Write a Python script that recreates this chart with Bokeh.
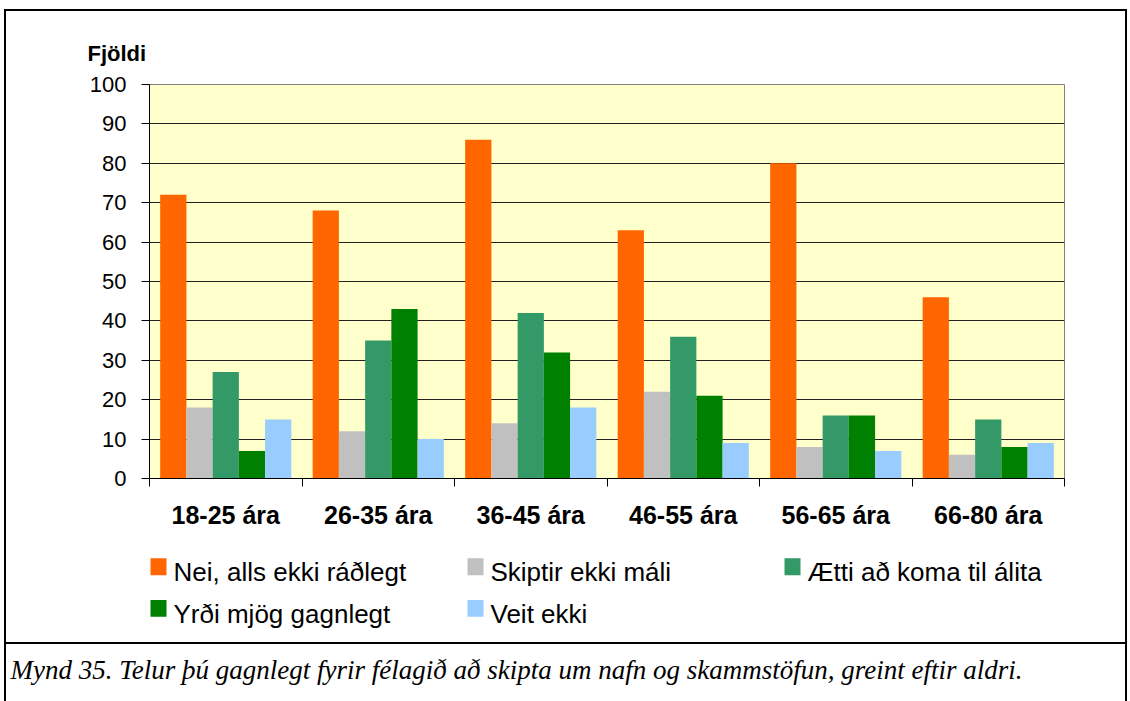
from bokeh.plotting import figure
from bokeh.layouts import column
from bokeh.models import (Range1d, FixedTicker, Title, ColumnDataSource, InlineStyleSheet)
from bokeh.core.properties import value
from bokeh.transform import dodge
from bokeh.embed import file_html
from bokeh.resources import INLINE

# ---------------- data ----------------
ages = ["18-25 ára", "26-35 ára", "36-45 ára", "46-55 ára", "56-65 ára", "66-80 ára"]
series_names = ["Nei, alls ekki ráðlegt", "Skiptir ekki máli", "Ætti að koma til álita",
                "Yrði mjög gagnlegt", "Veit ekki"]
nei = [72, 68, 86, 63, 80, 46]
skiptir = [18, 12, 14, 22, 8, 6]
aetti = [27, 35, 42, 36, 16, 15]
yrdi = [7, 43, 32, 21, 16, 8]
veit = [15, 10, 18, 9, 7, 9]
y_ticks = [0, 10, 20, 30, 40, 50, 60, 70, 80, 90, 100]
y_title = "Fjöldi"
caption = "Mynd 35.  Telur þú gagnlegt fyrir félagið að skipta um nafn og skammstöfun,  greint eftir aldri."

# ---------------- style / layout ----------------
colors = ["#FF6600", "#C0C0C0", "#339966", "#008000", "#99CCFF"]
FONT = "Liberation Sans"
W, H = 1130, 701
TOP_H = 540                      # height of chart part, legend + caption below
BOT_H = H - TOP_H
SEP_Y = 641                      # separator line between legend and caption
FRAME_L, FRAME_R, FRAME_T, FRAME_B = 149, 1064, 84, 478   # page pixels

n = len(ages)
centers = [i + 0.5 for i in range(n)]      # category slots on the x scale
bounds = list(range(n + 1))                # slot boundaries (tick marks)

# ---------------- chart ----------------
p = figure(x_range=Range1d(0, n), y_range=Range1d(0, 100),
           width=W, height=TOP_H, output_backend="svg", toolbar_location=None,
           min_border_left=FRAME_L, min_border_right=W - FRAME_R,
           min_border_top=FRAME_T, min_border_bottom=TOP_H - FRAME_B,
           background_fill_color="#FFFFCC", border_fill_color="white",
           outline_line_color="#808080", title=y_title)

p.title.align = "left"
p.title.offset = 87 - FRAME_L
p.title.standoff = 37
p.title.text_font = FONT
p.title.text_font_size = "22px"
p.title.text_font_style = "bold"
p.title.text_color = "black"

p.xgrid.visible = False
p.ygrid.grid_line_color = "#222222"
p.ygrid.grid_line_width = 1

yax = p.yaxis[0]
yax.ticker = FixedTicker(ticks=y_ticks, minor_ticks=[])
yax.major_label_text_font = FONT
yax.major_label_text_font_size = "22px"
yax.major_label_text_color = "black"
yax.major_tick_out = 8
yax.major_tick_in = 0
yax.major_tick_line_color = "black"
yax.minor_tick_line_color = None
yax.axis_line_color = "black"
yax.major_label_standoff = 15

xax = p.xaxis[0]
xax.ticker = FixedTicker(ticks=centers, minor_ticks=bounds)
overrides = {}
for c, a in zip(centers, ages):
    overrides[c] = a
    overrides[str(c)] = a
xax.major_label_overrides = overrides
xax.major_tick_line_color = None
xax.major_tick_out = 0
xax.major_tick_in = 0
xax.minor_tick_line_color = "black"
xax.minor_tick_out = 8
xax.minor_tick_in = 0
xax.axis_line_color = "black"
xax.major_label_text_font = FONT
xax.major_label_text_font_size = "25px"
xax.major_label_text_font_style = "bold"
xax.major_label_text_color = "black"
xax.major_label_standoff = 14

source = ColumnDataSource(dict(slot=centers, nei=nei, skiptir=skiptir, aetti=aetti,
                               yrdi=yrdi, veit=veit))
keys = ["nei", "skiptir", "aetti", "yrdi", "veit"]
bar_w = 0.172
for k, key in enumerate(keys):
    off = (k - (len(keys) - 1) / 2) * bar_w
    p.vbar(x=dodge("slot", off), top=key, width=bar_w, source=source,
           fill_color=colors[k], line_color=None)

# ---------------- legend + caption panel ----------------
# its frame is aligned with the chart's frame by the column, so x here = page x
q = figure(x_range=Range1d(FRAME_L, FRAME_R), y_range=Range1d(SEP_Y - TOP_H, 0),
           width=W, height=BOT_H, output_backend="svg", toolbar_location=None,
           x_axis_location=None, y_axis_location=None,
           min_border_left=FRAME_L, min_border_right=W - FRAME_R,
           min_border_top=0, min_border_bottom=H - SEP_Y,
           background_fill_color="white", border_fill_color="white", outline_line_color=None)
q.grid.visible = False

LEG_X0, LEG_COL, LEG_ROW = 150, 317, 42        # first swatch left, column / row pitch
SW_W, SW_H, SW_CY0 = 16, 17, 566.5 - TOP_H     # swatch size, first row centre
TXT_DX, TXT_BASE0 = 23, 572 - TOP_H            # label offset, first row baseline
cols = [k % 3 for k in range(len(series_names))]
rows = [k // 3 for k in range(len(series_names))]
leg = ColumnDataSource(dict(
    sx=[LEG_X0 + c * LEG_COL + SW_W / 2 for c in cols],
    sy=[SW_CY0 + r * LEG_ROW for r in rows],
    tx=[LEG_X0 + c * LEG_COL + TXT_DX for c in cols],
    ty=[TXT_BASE0 + r * LEG_ROW for r in rows],
    label=series_names, color=colors))
q.rect(x="sx", y="sy", width=SW_W, height=SW_H, fill_color="color", line_color=None, source=leg)
q.text(x="tx", y="ty", text="label", source=leg, text_font=value(FONT), text_font_size="26px",
       text_baseline="alphabetic", text_align="left", text_color="black")

cap = Title(text=caption, align="left", offset=10 - FRAME_L, vertical_align="top", standoff=29,
            text_font="Liberation Serif", text_font_style="italic", text_font_size="27px",
            text_color="black")
q.add_layout(cap, "below")

# outer boxes (chart box and caption box)
box_css = """
:host::before, :host::after {
  content: ""; position: absolute; box-sizing: border-box; pointer-events: none;
  border: 2px solid #000; background: transparent; z-index: 10;
}
:host::before { left: 4px; top: 9px; width: 1123px; height: 635px; }
:host::after  { left: 4px; top: 642px; width: 1123px; height: 59px; border-bottom: none; }
"""
layout = column(p, q, spacing=0, stylesheets=[InlineStyleSheet(css=box_css)])

with open("out.html", "w", encoding="utf-8") as f:
    f.write(file_html(layout, INLINE, title="Mynd 35"))
